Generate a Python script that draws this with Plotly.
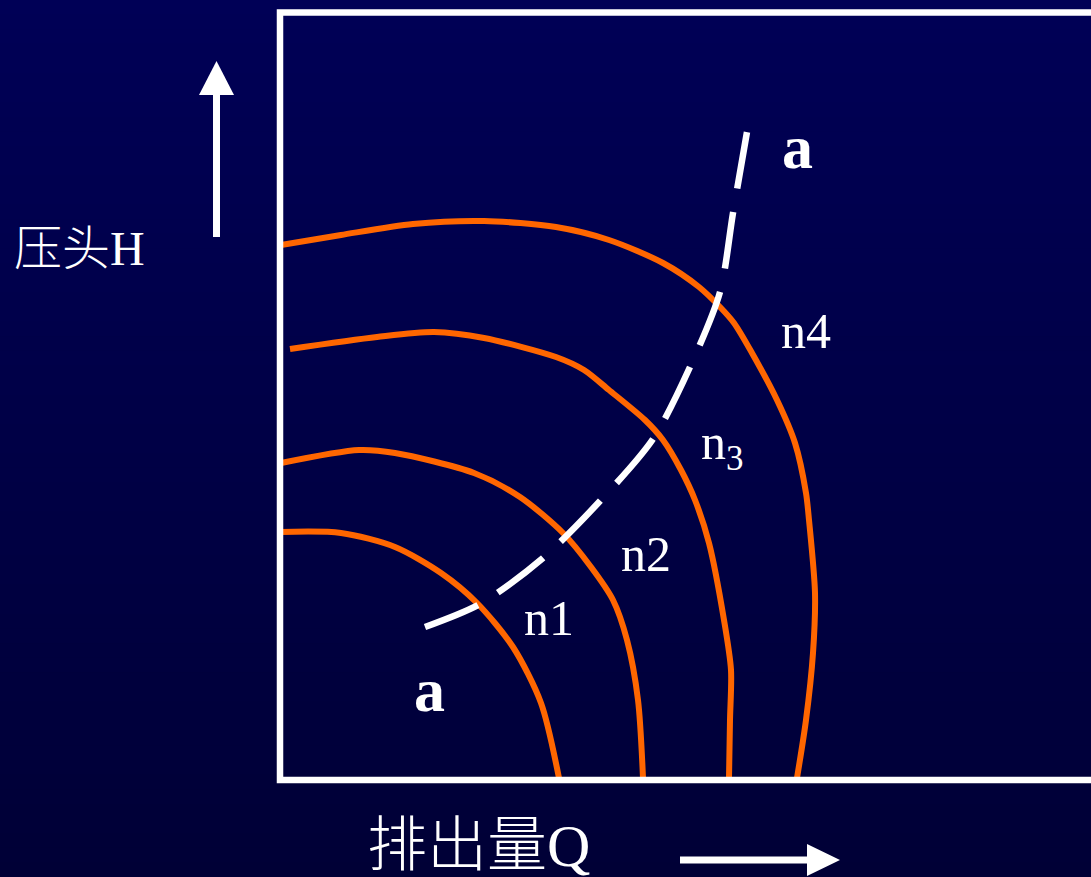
import plotly.graph_objects as go

# ---- data (Q = flow, H = head) ----
n1_q = [0.1, 6.1, 11.5, 16.1, 19.7, 23.3, 26.1, 27.9]
n1_h = [24.8, 24.7, 23.3, 20.7, 17.7, 13.3, 7.7, 0.2]

n2_q = [0.1, 7.9, 11.5, 19.4, 24.0, 28.3, 31.1, 33.3, 34.7, 35.8, 36.3]
n2_h = [31.7, 33.0, 32.7, 30.7, 28.3, 24.7, 21.3, 18.0, 14.0, 8.0, 0.2]

n3_q = [1.0, 9.7, 15.4, 20.4, 27.6, 30.4, 32.9, 36.5, 38.3, 40.1, 41.5, 42.9, 44.4, 45.1, 45.0, 44.9]
n3_h = [43.1, 44.3, 44.8, 44.2, 42.3, 41.0, 39.0, 36.0, 34.0, 31.0, 28.0, 23.7, 16.0, 11.0, 6.0, 0.2]

n4_q = [0.1, 6.1, 13.3, 20.4, 27.6, 32.9, 38.3, 41.9, 44.0, 45.4, 47.2, 49.7, 51.5, 52.6, 52.9, 53.5, 53.3, 52.6, 51.7]
n4_h = [53.5, 54.5, 55.6, 55.9, 55.3, 54.0, 51.7, 49.3, 47.3, 45.7, 42.7, 38.0, 33.7, 28.7, 26.0, 18.7, 12.7, 6.0, 0.2]

aa_q = [14.5, 20.0, 26.3, 32.0, 37.3, 41.0, 44.0, 45.3, 46.7]
aa_h = [15.3, 17.6, 22.2, 27.9, 34.1, 41.3, 48.8, 56.7, 64.8]

curve_labels = ["n1", "n2", "n<sub>3</sub>", "n4"]
label_q = [26.9, 36.6, 44.2, 52.6]
label_h = [16.2, 22.6, 33.4, 44.9]

W, H = 1091, 877
# pixel -> data helpers for decorations
def X(px):
    return (px - 280) / 10.0

def Y(py):
    return (780 - py) / 10.0

ORANGE = "#FF6600"
fig = go.Figure()

for q, h in [(n1_q, n1_h), (n2_q, n2_h), (n3_q, n3_h), (n4_q, n4_h)]:
    fig.add_trace(go.Scatter(x=q, y=h, mode="lines",
                             line=dict(color=ORANGE, width=6, shape="spline", smoothing=0.8),
                             hoverinfo="skip", showlegend=False))

fig.add_trace(go.Scatter(x=aa_q, y=aa_h, mode="lines",
                         line=dict(color="white", width=6.5, shape="spline", smoothing=0.8,
                                   dash="57px,24px"),
                         hoverinfo="skip", showlegend=False))

shapes = []
# gradient background
N = 60
top = (0, 0, 86)
bot = (0, 0, 54)
for i in range(N):
    t = (i + 0.5) / N
    c = tuple(int(round(top[k] + (bot[k] - top[k]) * t)) for k in range(3))
    shapes.append(dict(type="rect", xref="paper", yref="paper",
                       x0=0, x1=1, y0=1 - (i + 1) / N - 0.002, y1=1 - i / N,
                       fillcolor="rgb(%d,%d,%d)" % c, line=dict(width=0), layer="below"))

# frame box
shapes.append(dict(type="rect", xref="x", yref="y", x0=0, y0=0, x1=X(1200), y1=Y(12.5),
                   line=dict(color="white", width=6.5), fillcolor="rgba(0,0,0,0)", layer="above"))

# up arrow
shapes.append(dict(type="line", xref="x", yref="y", x0=X(216.5), x1=X(216.5), y0=Y(237), y1=Y(92),
                   line=dict(color="white", width=7)))
shapes.append(dict(type="path", xref="x", yref="y",
                   path="M %f,%f L %f,%f L %f,%f Z" % (X(216.5), Y(61), X(199), Y(95), X(234), Y(95)),
                   fillcolor="white", line=dict(width=0)))
# right arrow
shapes.append(dict(type="line", xref="x", yref="y", x0=X(680), x1=X(810), y0=Y(860), y1=Y(860),
                   line=dict(color="white", width=7)))
shapes.append(dict(type="path", xref="x", yref="y",
                   path="M %f,%f L %f,%f L %f,%f Z" % (X(840), Y(860), X(807), Y(844), X(807), Y(876)),
                   fillcolor="white", line=dict(width=0)))

annotations = []
serif_cjk = "Liberation Serif, Noto Sans CJK SC"
for txt, q, h in zip(curve_labels, label_q, label_h):
    annotations.append(dict(x=q, y=h, xref="x", yref="y", text=txt, showarrow=False,
                            xanchor="center", yanchor="middle",
                            font=dict(family="Liberation Serif", size=50, color="white")))
annotations.append(dict(x=X(797), y=Y(147), xref="x", yref="y", text="a", showarrow=False,
                        xanchor="center", yanchor="middle",
                        font=dict(family="Liberation Serif", size=62, color="white", weight="bold")))
annotations.append(dict(x=X(429), y=Y(690), xref="x", yref="y", text="a", showarrow=False,
                        xanchor="center", yanchor="middle",
                        font=dict(family="Liberation Serif", size=62, color="white", weight="bold")))
annotations.append(dict(x=X(12), y=Y(248), xref="x", yref="y", text="压头H", showarrow=False,
                        xanchor="left", yanchor="middle",
                        font=dict(family=serif_cjk, size=48, color="white", weight=300)))
annotations.append(dict(x=X(365), y=Y(846), xref="x", yref="y", text="排出量Q", showarrow=False,
                        xanchor="left", yanchor="middle",
                        font=dict(family=serif_cjk, size=60, color="white", weight=300)))

fig.update_layout(
    width=W, height=H, margin=dict(l=0, r=0, t=0, b=0),
    paper_bgcolor="rgb(0,0,70)", plot_bgcolor="rgba(0,0,0,0)",
    xaxis=dict(range=[X(0), X(W)], visible=False, fixedrange=True),
    yaxis=dict(range=[Y(H), Y(0)], visible=False, fixedrange=True),
    shapes=shapes, annotations=annotations, showlegend=False,
)

fig.write_html("out.html", config={"displayModeBar": False},
               post_script="document.body.style.margin='0';document.body.style.overflow='hidden';")
